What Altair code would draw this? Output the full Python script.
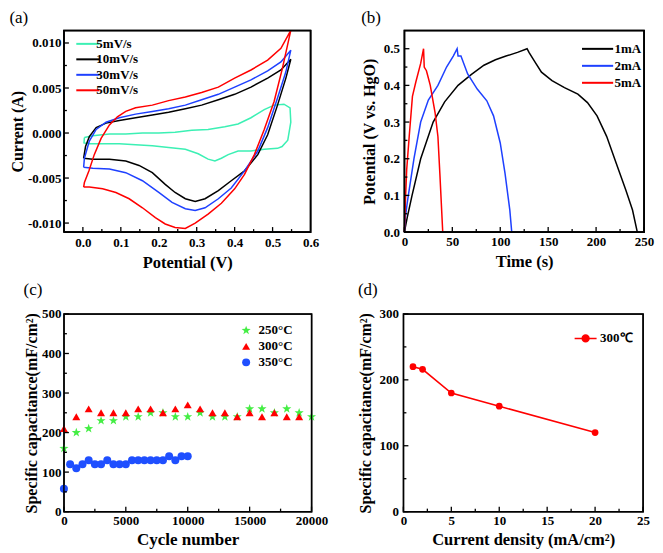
import altair as alt
import pandas as pd

FONT = "Liberation Serif"

# ---------------- (a) cyclic voltammetry ----------------
cv_rates = ["5mV/s", "10mV/s", "30mV/s", "50mV/s"]
cv_colors = ["#3CF0B4", "#000000", "#1E40FF", "#FF0000"]

cv5_v = [0.004, 0.026, 0.070, 0.113, 0.157, 0.200, 0.243, 0.287, 0.330, 0.374,
         0.409, 0.443, 0.478, 0.504, 0.530, 0.546, 0.548, 0.540, 0.525, 0.513,
         0.478, 0.443, 0.409, 0.383, 0.365, 0.348, 0.330, 0.304, 0.270, 0.226,
         0.183, 0.139, 0.096, 0.052, 0.017, 0.003, 0.004]
cv5_i = [-0.0005, -0.0003, -0.0001, -0.0001, 0.0000, 0.0000, 0.0001, 0.0003, 0.0004, 0.0007,
         0.0010, 0.0017, 0.0026, 0.0031, 0.0032, 0.0028, 0.0012, -0.0008, -0.0015, -0.0017,
         -0.0018, -0.0020, -0.0020, -0.0024, -0.0028, -0.0031, -0.0029, -0.0023, -0.0018, -0.0016,
         -0.0014, -0.0013, -0.0012, -0.0012, -0.0012, -0.0011, -0.0005]

cv10_v = [0.002, 0.026, 0.070, 0.113, 0.148, 0.183, 0.217, 0.243, 0.270, 0.296,
          0.322, 0.357, 0.391, 0.426, 0.461, 0.487, 0.513, 0.535, 0.548,
          0.522, 0.487, 0.443, 0.400, 0.357, 0.313, 0.270, 0.226, 0.183, 0.139,
          0.096, 0.061, 0.035, 0.017, 0.007, 0.002]
cv10_i = [-0.0028, -0.0029, -0.0029, -0.0031, -0.0036, -0.0044, -0.0057, -0.0066, -0.0073, -0.0076,
          -0.0073, -0.0064, -0.0053, -0.0042, -0.0024, -0.0002, 0.0031, 0.0061, 0.0082,
          0.0070, 0.0061, 0.0051, 0.0043, 0.0037, 0.0031, 0.0027, 0.0023, 0.0020, 0.0017,
          0.0014, 0.0011, 0.0006, -0.0004, -0.0015, -0.0028]

cv30_v = [0.002, 0.026, 0.070, 0.113, 0.157, 0.200, 0.235, 0.270, 0.296, 0.322,
          0.357, 0.391, 0.426, 0.461, 0.487, 0.513, 0.535, 0.548,
          0.522, 0.487, 0.443, 0.400, 0.357, 0.313, 0.270, 0.226, 0.183, 0.139,
          0.096, 0.061, 0.035, 0.017, 0.004, 0.002]
cv30_i = [-0.0038, -0.0039, -0.0040, -0.0044, -0.0053, -0.0066, -0.0077, -0.0084, -0.0086, -0.0083,
          -0.0073, -0.0061, -0.0042, -0.0020, 0.0006, 0.0039, 0.0068, 0.0092,
          0.0079, 0.0069, 0.0059, 0.0051, 0.0043, 0.0037, 0.0031, 0.0027, 0.0024, 0.0021,
          0.0017, 0.0012, 0.0004, -0.0009, -0.0028, -0.0038]

cv50_v = [0.002, 0.017, 0.052, 0.087, 0.122, 0.157, 0.191, 0.217, 0.243, 0.270,
          0.296, 0.330, 0.365, 0.400, 0.426, 0.452, 0.478, 0.504, 0.526, 0.548,
          0.522, 0.487, 0.443, 0.400, 0.357, 0.313, 0.270, 0.226, 0.183, 0.139,
          0.113, 0.091, 0.070, 0.048, 0.030, 0.016, 0.004, 0.002]
cv50_i = [-0.0060, -0.0060, -0.0062, -0.0066, -0.0073, -0.0083, -0.0094, -0.0101, -0.0105, -0.0106,
          -0.0100, -0.0090, -0.0078, -0.0062, -0.0046, -0.0024, 0.0004, 0.0035, 0.0072, 0.0114,
          0.0094, 0.0081, 0.0070, 0.0061, 0.0051, 0.0045, 0.0040, 0.0036, 0.0031, 0.0028,
          0.0024, 0.0018, 0.0009, -0.0006, -0.0024, -0.0042, -0.0055, -0.0060]

# ---------------- (b) charge / discharge ----------------
gcd_labels = ["1mA", "2mA", "5mA"]
gcd_colors = ["#000000", "#1E40FF", "#FF0000"]
gcd1_t = [0, 3, 8, 17, 30, 42, 56, 70, 83, 95, 106, 118, 128, 130, 136, 143, 154, 167, 181, 191,
          201, 211, 221, 231, 238, 243]
gcd1_v = [0.0, 0.04, 0.10, 0.20, 0.30, 0.355, 0.40, 0.43, 0.455, 0.47, 0.48, 0.49, 0.50, 0.49,
          0.465, 0.436, 0.413, 0.394, 0.376, 0.353, 0.317, 0.261, 0.188, 0.115, 0.06, 0.0]
gcd2_t = [0, 1, 3, 5, 10, 17, 25, 35, 44, 51, 55, 56, 59, 66, 76, 86, 93, 100, 105, 110, 112]
gcd2_v = [0.0, 0.04, 0.08, 0.115, 0.20, 0.30, 0.36, 0.40, 0.45, 0.48, 0.50, 0.48, 0.48, 0.431,
          0.39, 0.358, 0.317, 0.243, 0.16, 0.06, 0.0]
gcd5_t = [0, 1, 2.4, 5, 8.4, 12, 17, 20, 20.7, 23, 25, 27, 32, 35, 37, 38.5, 40]
gcd5_v = [0.0, 0.08, 0.17, 0.26, 0.37, 0.41, 0.46, 0.50, 0.45, 0.44, 0.42, 0.40, 0.326, 0.26,
          0.16, 0.08, 0.0]

# ---------------- (c) cycling ----------------
cyc_labels = ["250°C", "300°C", "350°C"]
cyc_colors = ["#44EE44", "#FF0000", "#1F4FFF"]
cyc250_x = [0, 1000, 2000, 3000, 4000, 5000, 6000, 7000, 8000, 9000, 10000, 11000, 12000,
            13000, 14000, 15000, 16000, 17000, 18000, 19000, 20000]
cyc250_y = [160, 200, 210, 230, 230, 240, 240, 250, 250, 240, 240, 250, 240, 240, 240, 260,
            260, 250, 260, 250, 240]
cyc300_x = [0, 1000, 2000, 3000, 4000, 5000, 6000, 7000, 8000, 9000, 10000, 11000, 12000,
            13000, 14000, 15000, 16000, 17000, 18000, 19000]
cyc300_y = [210, 240, 260, 250, 250, 250, 260, 260, 250, 260, 270, 260, 250, 250, 240, 250,
            240, 250, 240, 240]
cyc350_x = [0, 500, 1000, 1500, 2000, 2500, 3000, 3500, 4000, 4500, 5000, 5500, 6000, 6500,
            7000, 7500, 8000, 8500, 9000, 9500, 10000]
cyc350_y = [58, 120, 110, 120, 130, 120, 120, 130, 120, 120, 120, 130, 130, 130, 130, 130,
            130, 140, 130, 140, 140]

# ---------------- (d) rate capability ----------------
rate_label = ["300℃"]
cd_x = [1, 2, 5, 10, 20]
cd_y = [220, 216, 180, 160, 120]

STAR = ("M0,-1.2L0.282,-0.389L1.141,-0.371L0.456,0.149L0.706,0.971L0,0.48L-0.706,0.971"
        "L-0.456,0.149L-1.141,-0.371L-0.282,-0.389Z")
LINE_A = "M-2.9,0L2.9,0"
LINE_B = "M-3.9,0L3.9,0"
LINE_DOT = "M-2.75,0L2.75,0M-0.85,0A0.85,0.85,0,1,1,0.85,0A0.85,0.85,0,1,1,-0.85,0Z"

LBL = dict(labelFont=FONT, labelFontSize=13, labelFontWeight="bold", labelColor="black")
TTL = dict(titleFont=FONT, titleFontWeight="bold", titleColor="black")


def long_df(series, xname, yname, key):
    rows = []
    for name, xs, ys in series:
        for k, (a, b) in enumerate(zip(xs, ys)):
            rows.append({xname: a, yname: b, key: name, "idx": k})
    return pd.DataFrame(rows)


def box(xdom, ydom):
    """Closed outline of the plotting domain, drawn as one more line series."""
    return ([xdom[0], xdom[1], xdom[1], xdom[0], xdom[0]],
            [ydom[0], ydom[0], ydom[1], ydom[1], ydom[0]])


def sc(dom):
    return alt.Scale(domain=dom, nice=False, zero=False)


def guides(xdom, ydom, xaxis, yaxis, xmaj, xmin, ymaj, ymin):
    """Frame and inward major/minor ticks; every layer carries the same axis definition."""
    out = []
    frame = pd.DataFrame({"x0": [xdom[0]], "x1": [xdom[1]], "y0": [ydom[0]], "y1": [ydom[1]]})
    out.append(alt.Chart(frame).mark_rect(fill=None, stroke="black", strokeWidth=1.5).encode(
        x=alt.X("x0:Q", scale=sc(xdom), axis=xaxis), x2="x1:Q",
        y=alt.Y("y0:Q", scale=sc(ydom), axis=yaxis), y2="y1:Q"))
    for vals, size in [(xmaj, 5), (xmin, 3)]:
        df = pd.DataFrame({"x0": vals, "y0": [ydom[0]] * len(vals)})
        out.append(alt.Chart(df).mark_tick(orient="vertical", size=size, thickness=1.3,
                                           color="black", opacity=1, yOffset=-size / 2).encode(
            x=alt.X("x0:Q", scale=sc(xdom), axis=xaxis),
            y=alt.Y("y0:Q", scale=sc(ydom), axis=yaxis)))
    for vals, size in [(ymaj, 5), (ymin, 3)]:
        df = pd.DataFrame({"x0": [xdom[0]] * len(vals), "y0": vals})
        out.append(alt.Chart(df).mark_tick(orient="horizontal", size=size, thickness=1.3,
                                           color="black", opacity=1, xOffset=size / 2).encode(
            x=alt.X("x0:Q", scale=sc(xdom), axis=xaxis),
            y=alt.Y("y0:Q", scale=sc(ydom), axis=yaxis)))
    return out


def base_axis(values, title, label_pad, title_pad, title_size, fmt=None, expr=None):
    kw = dict(values=values, title=title, ticks=False, domain=False, grid=False,
              labelPadding=label_pad, titlePadding=title_pad, labelOverlap=False,
              labelFlush=False, titleFontSize=title_size, **LBL, **TTL)
    if fmt:
        kw["format"] = fmt
    if expr:
        kw["labelExpr"] = expr
    return alt.Axis(**kw)


def line_legend(x, y, sym, size, label_offset, row_pad, values):
    return alt.Legend(orient="none", legendX=x, legendY=y, title=None, symbolType=sym,
                      symbolSize=size, symbolStrokeWidth=2, labelOffset=label_offset,
                      rowPadding=row_pad, padding=0, values=values, **LBL)


# ---- panel (a)
ax_dom = [-0.05, 0.6]
ay_dom = [-0.011, 0.0114]
a_box_x, a_box_y = box(ax_dom, ay_dom)
a_xaxis = base_axis([0.0, 0.1, 0.2, 0.3, 0.4, 0.5, 0.6], "Potential (V)", 4, 5, 16.5, fmt=".1f")
a_yaxis = base_axis([-0.01, -0.005, 0.0, 0.005, 0.01], "Current (A)", 3, 2, 16,
                    expr="replace(format(datum.value, '.3f'), '\u2212', '-')")
cv_df = long_df([("5mV/s", cv5_v, cv5_i), ("10mV/s", cv10_v, cv10_i),
                 ("30mV/s", cv30_v, cv30_i), ("50mV/s", cv50_v, cv50_i),
                 ("frame", a_box_x, a_box_y)], "x0", "y0", "rate")
a_lines = alt.Chart(cv_df).mark_line(strokeWidth=1.5).encode(
    x=alt.X("x0:Q", scale=sc(ax_dom), axis=a_xaxis),
    y=alt.Y("y0:Q", scale=sc(ay_dom), axis=a_yaxis),
    color=alt.Color("rate:N", scale=alt.Scale(domain=cv_rates + ["frame"], range=cv_colors + ["#000000"]),
                    legend=line_legend(17.5, 7, LINE_A, 64, 2, 1.5, cv_rates)),
    order="idx:Q",
)
pa = alt.layer(a_lines, *guides(ax_dom, ay_dom, a_xaxis, a_yaxis,
                                [0.0, 0.1, 0.2, 0.3, 0.4, 0.5],
                                [0.05, 0.15, 0.25, 0.35, 0.45, 0.55],
                                [-0.01, -0.005, 0.0, 0.005, 0.01],
                                [-0.0075, -0.0025, 0.0025, 0.0075])
               ).properties(width=247, height=202, title=alt.TitleParams("(a)", offset=0))

# ---- panel (b)
bx_dom = [0, 250]
by_dom = [0, 0.55]
b_box_x, b_box_y = box(bx_dom, by_dom)
b_xaxis = base_axis([0, 50, 100, 150, 200, 250], "Time (s)", 3, 5, 16.5, fmt="d")
b_yaxis = base_axis([0.0, 0.1, 0.2, 0.3, 0.4, 0.5], "Potential (V vs. HgO)", 5, 6, 16, fmt=".1f")
gcd_df = long_df([("1mA", gcd1_t, gcd1_v), ("2mA", gcd2_t, gcd2_v), ("5mA", gcd5_t, gcd5_v),
                  ("frame", b_box_x, b_box_y)], "x0", "y0", "cur")
b_lines = alt.Chart(gcd_df).mark_line(strokeWidth=1.5).encode(
    x=alt.X("x0:Q", scale=sc(bx_dom), axis=b_xaxis),
    y=alt.Y("y0:Q", scale=sc(by_dom), axis=b_yaxis),
    color=alt.Color("cur:N", scale=alt.Scale(domain=gcd_labels + ["frame"], range=gcd_colors + ["#000000"]),
                    legend=line_legend(187, 12, LINE_B, 64, 10.5, 3, gcd_labels)),
    order="idx:Q",
)
pb = alt.layer(b_lines, *guides(bx_dom, by_dom, b_xaxis, b_yaxis,
                                [0, 50, 100, 150, 200, 250],
                                [25, 75, 125, 175, 225],
                                [0.0, 0.1, 0.2, 0.3, 0.4, 0.5],
                                [0.05, 0.15, 0.25, 0.35, 0.45])
               ).properties(width=240, height=202, title=alt.TitleParams("(b)", offset=0))

# ---- panel (c)
cx_dom = [0, 20000]
cy_dom = [0, 500]
c_xaxis = base_axis([0, 5000, 10000, 15000, 20000], "Cycle number", 3, 4, 17, fmt="d")
c_yaxis = base_axis([0, 100, 200, 300, 400, 500], "Specific capacitance(mF/cm²)", 3, 2, 16, fmt="d")
cyc_df = long_df([("250°C", cyc250_x, cyc250_y), ("300°C", cyc300_x, cyc300_y),
                  ("350°C", cyc350_x, cyc350_y)], "x0", "y0", "temp")
c_leg = alt.Legend(orient="none", legendX=176, legendY=10, title=None, symbolSize=64,
                   labelOffset=6, rowPadding=2, padding=0, **LBL)
c_pts = alt.Chart(cyc_df).mark_point(filled=True, size=64, opacity=1).encode(
    x=alt.X("x0:Q", scale=sc(cx_dom), axis=c_xaxis),
    y=alt.Y("y0:Q", scale=sc(cy_dom), axis=c_yaxis),
    color=alt.Color("temp:N", scale=alt.Scale(domain=cyc_labels, range=cyc_colors), legend=c_leg),
    shape=alt.Shape("temp:N", scale=alt.Scale(domain=cyc_labels, range=[STAR, "triangle-up", "circle"]),
                    legend=c_leg),
)
pc = alt.layer(c_pts, *guides(cx_dom, cy_dom, c_xaxis, c_yaxis,
                              [0, 5000, 10000, 15000, 20000],
                              [2500, 7500, 12500, 17500],
                              [0, 100, 200, 300, 400, 500],
                              [50, 150, 250, 350, 450])
               ).properties(width=248, height=198, title=alt.TitleParams("(c)", offset=9))

# ---- panel (d)
dx_dom = [0, 25]
dy_dom = [0, 300]
d_xaxis = base_axis([0, 5, 10, 15, 20, 25], "Current density (mA/cm²)", 3, 4, 16.5, fmt="d")
d_yaxis = base_axis([0, 100, 200, 300], "Specific capacitance(mF/cm²)", 5, 5, 16, fmt="d")
cd_df = pd.DataFrame({"x0": cd_x, "y0": cd_y, "temp": rate_label * len(cd_x)})
d_line = alt.Chart(cd_df).mark_line(strokeWidth=1.5, color="#FF0000",
                                    point=alt.OverlayMarkDef(filled=True, size=45, color="#FF0000")).encode(
    x=alt.X("x0:Q", scale=sc(dx_dom), axis=d_xaxis),
    y=alt.Y("y0:Q", scale=sc(dy_dom), axis=d_yaxis),
    color=alt.Color("temp:N", scale=alt.Scale(domain=rate_label, range=["#FF0000"]),
                    legend=alt.Legend(orient="none", legendX=176, legendY=18, title=None,
                                      symbolType=LINE_DOT, symbolSize=64, symbolStrokeWidth=1.5,
                                      symbolFillColor="#FF0000", symbolStrokeColor="#FF0000",
                                      labelOffset=8, padding=0, **LBL)),
)
pd_ = alt.layer(d_line, *guides(dx_dom, dy_dom, d_xaxis, d_yaxis,
                                [0, 5, 10, 15, 20, 25],
                                [2.5, 7.5, 12.5, 17.5, 22.5],
                                [0, 100, 200, 300],
                                [50, 150, 250])
                ).properties(width=240, height=198, title=alt.TitleParams("(d)", offset=9))

row1 = alt.hconcat(pa, pb, spacing=41).resolve_scale(color="independent", shape="independent")
row2 = alt.hconcat(pc, pd_, spacing=28).resolve_scale(color="independent", shape="independent")

chart = alt.vconcat(row1, row2, spacing=8).resolve_scale(
    color="independent", shape="independent"
).properties(
    padding={"left": 0, "top": 0, "right": 0, "bottom": 0}
).configure_view(
    stroke="black", strokeWidth=1.3
).configure_title(
    font=FONT, fontSize=17, fontWeight="normal", anchor="start", frame="bounds", color="black"
)

chart.save("out.html", embed_options={"renderer": "svg", "actions": False})
